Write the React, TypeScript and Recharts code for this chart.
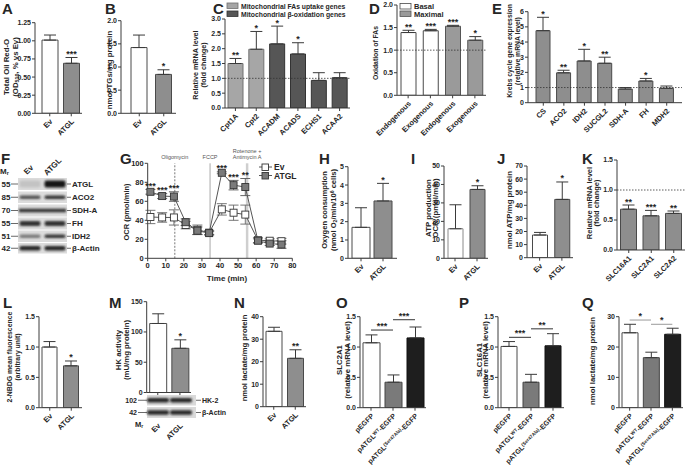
import { BarChart, Bar, Cell, XAxis, YAxis, ErrorBar, LabelList, ReferenceLine, LineChart, Line } from 'recharts'

const FONT = '"Liberation Sans", Arial, Helvetica, sans-serif'
const INK = '#262626'
const AXIS = '#3c3c3c'

// ---------- data ----------
const evAtgl = ['Ev', 'ATGL']

const aVals = [1.01, 0.69]
const aErr = [0.07, 0.08]
const aSig = ['', '***']
const aTicks = [0, 0.25, 0.5, 0.75, 1, 1.25]

const bVals = [1.42, 0.84]
const bErr = [0.27, 0.1]
const bSig = ['', '*']
const bTicks = [0, 0.5, 1, 1.5, 2]

const cCats = ['Cpt1A', 'Cpt2', 'ACADM', 'ACADS', 'ECHS1', 'ACAA2']
const cVals = [1.5, 1.98, 2.16, 1.82, 0.93, 1.02]
const cErr = [0.17, 0.6, 0.6, 0.38, 0.26, 0.17]
const cSig = ['**', '*', '*', '*', '', '']
const cTicks = [0, 0.5, 1, 1.5, 2, 2.5, 3]

const dCats = ['Endogenous', 'Exogenous', 'Endogenous', 'Exogenous']
const dVals = [1.39, 1.43, 1.53, 1.22]
const dErr = [0.05, 0.03, 0.02, 0.08]
const dSig = ['**', '***', '***', '*']
const dTicks = [0, 0.5, 1, 1.5, 2]

const eCats = ['CS', 'ACO2', 'IDH2', 'SUCGL2', 'SDH-A', 'FH', 'MDH2']
const eVals = [4.75, 1.97, 2.75, 2.6, 0.9, 1.43, 0.95]
const eErr = [0.88, 0.17, 0.77, 0.4, 0.1, 0.17, 0.15]
const eSig = ['*', '**', '*', '**', '', '*', '']
const eTicks = [0, 1, 2, 3, 4, 5, 6]

const gTime = [1.5, 8, 14.5, 21, 27.5, 34, 41, 47.5, 54, 61, 67.5, 74]
const gEv = [43.5, 43, 43, 35, 30, 27, 51.5, 48, 46, 19, 18.5, 18]
const gEvErr = [7, 5, 8, 4, 5, 2, 6, 8, 10, 3, 2, 3]
const gAtgl = [70, 65.5, 65, 38, 29, 26.5, 90, 77, 75, 18.5, 15.5, 14.5]
const gAtglErr = [2.5, 2.6, 5, 3.5, 4, 2, 1, 5, 9, 2, 2, 4]
const gSig = ['***', '***', '***', '', '', '', '***', '***', '**', '', '', '']
const gXTicks = [0, 10, 20, 30, 40, 50, 60, 70, 80]
const gYTicks = [0, 20, 40, 60, 80, 100]

const hVals = [1.69, 3.13]
const hErr = [1.07, 0.96]
const hSig = ['', '*']
const hTicks = [0, 1, 2, 3, 4, 5]

const iVals = [16, 37.3]
const iErr = [13, 2]
const iSig = ['', '*']
const iTicks = [0, 10, 20, 30, 40, 50]

const jVals = [17.3, 44.5]
const jErr = [2, 13.3]
const jSig = ['', '*']
const jTicks = [0, 10, 20, 30, 40, 50, 60, 70]

const kCats = ['SLC16A1', 'SLC2A1', 'SLC2A2']
const kVals = [0.68, 0.57, 0.61]
const kErr = [0.07, 0.09, 0.04]
const kSig = ['**', '***', '**']
const halfTicks = [0, 0.5, 1, 1.5]

const lVals = [1.0, 0.69]
const lErr = [0.09, 0.08]
const lSig = ['', '*']

const mVals = [114, 73]
const mErr = [16, 14]
const mSig = ['', '*']
const mTicks = [0, 50, 100, 150]

const nVals = [33.5, 21.5]
const nErr = [1.8, 3.8]
const nSig = ['', '**']
const nTicks = [0, 10, 20, 30, 40]

const plasmids = ['pEGFP', 'pATGL WT-EGFP', 'pATGL (Ser47Ala)-EGFP']
const oVals = [1.07, 0.42, 1.15]
const oErr = [0.13, 0.12, 0.18]
const oBrackets = [{ from: 0, to: 1, y: 1.28, s: '***' }, { from: 1, to: 2, y: 1.45, s: '***' }]

const pVals = [1.01, 0.42, 1.02]
const pErr = [0.08, 0.13, 0.2]
const pBrackets = [{ from: 0, to: 1, y: 1.16, s: '***' }, { from: 1, to: 2, y: 1.3, s: '**' }]

const qVals = [24.7, 16.5, 24.2]
const qErr = [2.8, 1.8, 2.0]
const qBrackets = [{ from: 0, to: 1, y: 28.9, s: '*' }, { from: 1, to: 2, y: 27.5, s: '*' }]
const qTicks = [0, 10, 20, 30]

// western blots: band darkness per lane (Ev, ATGL)
const fProteins = ['ATGL', 'ACO2', 'SDH-A', 'FH', 'IDH2', 'β-Actin']
const fMr = ['55', '85', '70', '55', '51', '42']
const fBands = [[0.12, 1], [0.7, 0.85], [0.85, 0.85], [0.85, 0.85], [0.5, 0.85], [0.9, 0.9]]
const mProteins = ['HK-2', 'β-Actin']
const mMr = ['102', '42']
const mBands = [[0.9, 0.9], [0.9, 0.9]]

// ---------- helpers ----------
type Part = [string, string?]

// sub/superscripts via baseline-shift so text-anchor still spans the whole line
function Rich({ parts, fs }: { parts: Part[]; fs: number }) {
  return (
    <>
      {parts.map(([t, k], i) => (
        <tspan
          key={i}
          fontSize={k ? fs * 0.68 : fs}
          baselineShift={k === 'sub' ? '-22%' : k === 'sup' ? '45%' : undefined}
        >
          {t}
        </tspan>
      ))}
    </>
  )
}

const WHITE = { fill: '#ffffff', stroke: '#4a4a4a' }
const GRAY = { fill: '#8e8e8e', stroke: '#4a4a4a' }
const LIGHT = { fill: '#a6a6a6', stroke: '#707070' }
const DARK = { fill: '#565656', stroke: '#333333' }
const MID = { fill: '#7a7a7a', stroke: '#444444' }
const BLACK = { fill: '#1e1e1e', stroke: '#111111' }

interface Spec {
  letter: string
  lx: number
  ly: number
  cats: string[]
  vals: number[]
  errs: number[]
  sig?: string[]
  styles: { fill: string; stroke: string }[]
  ticks: number[]
  dec: number
  x0: number
  x1: number
  y0: number
  y1: number
  padL: number
  padR: number
  barSize: number
  box: number[]
  titles: { x: number; parts: Part[] }[]
  ty: number
  titleFs: number
  refOne?: boolean
  brackets?: { from: number; to: number; y: number; s: string }[]
  bracketColor?: string
  tickParts?: Part[][]
  tickFs?: number
  tickDrop?: number
  extra?: (ox: number, oy: number) => any
}

function BarPanel({ s }: { s: Spec }) {
  const [bx0, by0, bx1, by1] = s.box
  const W = bx1 - bx0
  const H = by1 - by0
  const YW = 2
  const XH = 2
  const data = s.cats.map((c, i) => ({ name: c, v: s.vals[i], e: [0, s.errs[i]] }))
  const margin = { left: s.x0 - bx0 - YW, top: s.y1 - by0, right: bx1 - s.x1, bottom: by1 - s.y0 - XH }
  const drop = s.tickDrop ?? 0
  const tfs = s.tickFs ?? 7.5

  const renderTick = (p: any) => {
    const parts: Part[] = s.tickParts ? s.tickParts[p.index] : [[String(p.payload.value)]]
    return (
      <g transform={`translate(${p.x + 1.5},${p.y + 2 + drop})`}>
        <text transform="rotate(-45)" textAnchor="end" dy={2.5} fill={INK} fontFamily={FONT} fontWeight={700} fontSize={tfs}>
          <Rich parts={parts} fs={tfs} />
        </text>
      </g>
    )
  }

  const titleFn = () => (
    <g fontFamily={FONT} fill={INK}>
      <text x={s.lx - bx0} y={s.ly - by0} fontSize={15} fontWeight={700}>
        {s.letter}
      </text>
      {s.titles.map((t, i) => (
        <text
          key={i}
          transform={`translate(${t.x - bx0},${s.ty - by0}) rotate(-90)`}
          textAnchor="middle"
          dy={s.titleFs * 0.36}
          fontWeight={700}
          fontSize={s.titleFs}
        >
          <Rich parts={t.parts} fs={s.titleFs} />
        </text>
      ))}
      {s.extra ? s.extra(bx0, by0) : null}
    </g>
  )

  const starFn = (p: any) => {
    const i = p.index
    const st = s.sig ? s.sig[i] : ''
    if (!st) return null
    const vb = p.viewBox ?? p
    const ppu = vb.height / s.vals[i]
    const y = vb.y - s.errs[i] * ppu - 0.5
    return (
      <text key={`st${i}`} x={vb.x + vb.width / 2} y={y} textAnchor="middle" fontSize={9} fontWeight={700} fill={INK} fontFamily={FONT}>
        {st}
      </text>
    )
  }

  return (
    <div style={{ position: 'absolute', left: bx0, top: by0 }}>
      <BarChart width={W} height={H} data={data} margin={margin} barSize={s.barSize}>
        <XAxis
          dataKey="name"
          interval={0}
          height={XH}
          tickSize={3}
          tickLine={{ stroke: AXIS }}
          axisLine={{ stroke: AXIS }}
          tick={renderTick}
          padding={{ left: s.padL, right: s.padR }}
        />
        <YAxis
          type="number"
          width={YW}
          domain={[0, s.ticks[s.ticks.length - 1]]}
          ticks={s.ticks}
          interval={0}
          allowDataOverflow
          tickSize={3}
          tickMargin={1}
          tickLine={{ stroke: AXIS }}
          axisLine={{ stroke: AXIS }}
          tick={{ fontSize: 7, fontWeight: 700, fill: INK, fontFamily: FONT }}
          tickFormatter={(v: number) => Number(v).toFixed(s.dec)}
          label={titleFn}
        />
        {s.refOne && <ReferenceLine y={1} stroke="#333" strokeDasharray="1.5 1.5" strokeWidth={0.8} ifOverflow="visible" />}
        <Bar dataKey="v" isAnimationActive={false} strokeWidth={1}>
          {data.map((_, i) => (
            <Cell key={i} fill={s.styles[i].fill} stroke={s.styles[i].stroke} />
          ))}
          <ErrorBar dataKey="e" width={6} stroke="#3a3a3a" strokeWidth={1} direction="y" />
          <LabelList dataKey="v" content={starFn} />
        </Bar>
        {(s.brackets ?? []).map((b, i) => (
          <ReferenceLine
            key={`br${i}`}
            segment={[
              { x: s.cats[b.from], y: b.y },
              { x: s.cats[b.to], y: b.y },
            ]}
            stroke={s.bracketColor ?? '#333'}
            strokeWidth={1}
            ifOverflow="visible"
            label={(lp: any) => {
              const vb = lp.viewBox
              return (
                <text x={vb.x + vb.width / 2} y={vb.y - 1} textAnchor="middle" fontSize={9} fontWeight={700} fill={INK} fontFamily={FONT}>
                  {b.s}
                </text>
              )
            }}
          />
        ))}
      </BarChart>
    </div>
  )
}

const plasmidParts: Part[][] = [
  [['pEGFP']],
  [['pATGL'], ['WT', 'sup'], ['-EGFP']],
  [['pATGL'], ['(Ser47Ala)', 'sup'], ['-EGFP']],
]

const legendC = (ox: number, oy: number) => (
  <g fontFamily={FONT} fontWeight={700} fontSize={6.8} fill={INK}>
    <rect x={227 - ox} y={3 - oy} width={11} height={5.5} fill={LIGHT.fill} stroke={LIGHT.stroke} strokeWidth={0.8} />
    <text x={241 - ox} y={8.5 - oy}>Mitochondrial FAs uptake genes</text>
    <rect x={227 - ox} y={11 - oy} width={11} height={5.5} fill={DARK.fill} stroke={DARK.stroke} strokeWidth={0.8} />
    <text x={241 - ox} y={16.5 - oy}>Mitochondrial β-oxidation genes</text>
  </g>
)

const legendD = (ox: number, oy: number) => (
  <g fontFamily={FONT} fontWeight={700} fontSize={7.5} fill={INK}>
    <rect x={400 - ox} y={3.5 - oy} width={11} height={5.5} fill="#fff" stroke="#4a4a4a" strokeWidth={0.8} />
    <text x={414 - ox} y={9 - oy}>Basal</text>
    <rect x={400 - ox} y={11 - oy} width={11} height={5.5} fill="#9a9a9a" stroke="#555" strokeWidth={0.8} />
    <text x={414 - ox} y={16.5 - oy}>Maximal</text>
  </g>
)

const specs: Spec[] = [
  {
    letter: 'A', lx: 2, ly: 14, cats: evAtgl, vals: aVals, errs: aErr, sig: aSig, styles: [WHITE, GRAY], ticks: aTicks, dec: 2,
    x0: 35, x1: 82, y0: 113.3, y1: 22.7, padL: 4, padR: 0, barSize: 16, box: [0, 0, 96, 145],
    titles: [{ x: 6, parts: [['Total Oil Red-O']] }, { x: 15.5, parts: [['(OD'], ['510', 'sub'], [', % vs Ev)']] }], ty: 67, titleFs: 7.8,
  },
  {
    letter: 'B', lx: 105, ly: 14, cats: evAtgl, vals: bVals, errs: bErr, sig: bSig, styles: [WHITE, GRAY], ticks: bTicks, dec: 1,
    x0: 121, x1: 176, y0: 113.3, y1: 20.7, padL: 6, padR: 0, barSize: 16, box: [100, 0, 185, 145],
    titles: [{ x: 109.5, parts: [['nmol TGs/mg protein']] }], ty: 70, titleFs: 7.8,
  },
  {
    letter: 'C', lx: 213, ly: 14, cats: cCats, vals: cVals, errs: cErr, sig: cSig, styles: [LIGHT, LIGHT, DARK, DARK, DARK, DARK], ticks: cTicks, dec: 1,
    x0: 225, x1: 350, y0: 108, y1: 19, padL: 0, padR: 0, barSize: 15, box: [185, 0, 362, 145], refOne: true,
    titles: [{ x: 195, parts: [['Relative mRNA level']] }, { x: 203, parts: [['(fold change)']] }], ty: 65, titleFs: 7.2, extra: legendC,
  },
  {
    letter: 'D', lx: 369, ly: 14, cats: dCats, vals: dVals, errs: dErr, sig: dSig, styles: [WHITE, WHITE, { fill: '#9a9a9a', stroke: '#555' }, { fill: '#9a9a9a', stroke: '#555' }], ticks: dTicks, dec: 1,
    x0: 397, x1: 486, y0: 95.3, y1: 5, padL: 0, padR: 0, barSize: 15, box: [365, 0, 492, 150], refOne: true,
    titles: [{ x: 376, parts: [['Oxidation of FAs']] }], ty: 53, titleFs: 6.8, extra: legendD,
  },
  {
    letter: 'E', lx: 492, ly: 14, cats: eCats, vals: eVals, errs: eErr, sig: eSig, styles: eCats.map(() => GRAY), ticks: eTicks, dec: 0,
    x0: 528, x1: 682, y0: 102.7, y1: 11.7, padL: 5, padR: 5, barSize: 14, box: [490, 0, 685, 145], refOne: true,
    titles: [{ x: 509.5, parts: [['Krebs cycle gene expression']] }, { x: 518, parts: [['(relative mRNA level)']] }], ty: 51, titleFs: 6.8,
  },
  {
    letter: 'H', lx: 319, ly: 164, cats: evAtgl, vals: hVals, errs: hErr, sig: hSig, styles: [WHITE, GRAY], ticks: hTicks, dec: 0,
    x0: 348, x1: 397, y0: 258.3, y1: 166.7, padL: 2, padR: 3, barSize: 18, box: [310, 148, 402, 295],
    titles: [
      { x: 324.5, parts: [['Oxygen consumption']] },
      { x: 333.5, parts: [['(nmol O'], ['2', 'sub'], ['/min/10'], ['6', 'sup'], [' cells)']] },
    ],
    ty: 210, titleFs: 7.6,
  },
  {
    letter: 'I', lx: 411, ly: 164, cats: evAtgl, vals: iVals, errs: iErr, sig: iSig, styles: [{ fill: '#fff', stroke: '#8a8a8a' }, GRAY], ticks: iTicks, dec: 0,
    x0: 444, x1: 488, y0: 258.3, y1: 166, padL: 0, padR: 0, barSize: 15, box: [405, 148, 495, 295],
    titles: [{ x: 428, parts: [['ATP production']] }, { x: 435.5, parts: [['OCR (pmol/min)']] }], ty: 208, titleFs: 7.8,
  },
  {
    letter: 'J', lx: 497, ly: 164, cats: evAtgl, vals: jVals, errs: jErr, sig: jSig, styles: [WHITE, GRAY], ticks: jTicks, dec: 0,
    x0: 527, x1: 573, y0: 257.7, y1: 166, padL: 1.5, padR: 0, barSize: 15, box: [495, 148, 580, 295],
    titles: [{ x: 509.5, parts: [['nmol ATP/mg protein']] }], ty: 210, titleFs: 7.8,
  },
  {
    letter: 'K', lx: 582, ly: 164, cats: kCats, vals: kVals, errs: kErr, sig: kSig, styles: kCats.map(() => GRAY), ticks: halfTicks, dec: 1,
    x0: 617, x1: 685, y0: 250, y1: 160, padL: 0.5, padR: 0, barSize: 16, box: [580, 148, 685, 295], refOne: true,
    titles: [{ x: 589.5, parts: [['Relative mRNA level']] }, { x: 596.5, parts: [['(fold change)']] }], ty: 203, titleFs: 7.5,
  },
  {
    letter: 'L', lx: 3, ly: 308, cats: evAtgl, vals: lVals, errs: lErr, sig: lSig, styles: [WHITE, GRAY], ticks: halfTicks, dec: 1,
    x0: 39, x1: 82, y0: 407.7, y1: 316.7, padL: 0, padR: 0, barSize: 15, box: [0, 290, 95, 465],
    titles: [{ x: 10, parts: [['2-NBDG mean fluorescence']] }, { x: 18, parts: [['(arbitrary unit)']] }], ty: 357, titleFs: 6.9,
  },
  {
    letter: 'M', lx: 109, ly: 308, cats: evAtgl, vals: mVals, errs: mErr, sig: mSig, styles: [WHITE, GRAY], ticks: mTicks, dec: 0,
    x0: 146.7, x1: 191, y0: 392.5, y1: 301.7, padL: 0, padR: 0, barSize: 17, box: [105, 290, 228, 465], tickDrop: 25,
    titles: [{ x: 118, parts: [['HK activity']] }, { x: 126, parts: [['(mU/mg protein)']] }], ty: 350, titleFs: 7.8,
  },
  {
    letter: 'N', lx: 234, ly: 308, cats: evAtgl, vals: nVals, errs: nErr, sig: nSig, styles: [WHITE, GRAY], ticks: nTicks, dec: 0,
    x0: 263, x1: 306, y0: 406.7, y1: 316.7, padL: 0, padR: 0, barSize: 16, box: [230, 290, 315, 465],
    titles: [{ x: 244, parts: [['nmol lactate/mg protein']] }], ty: 358, titleFs: 7.7,
  },
  {
    letter: 'O', lx: 336, ly: 308, cats: plasmids, vals: oVals, errs: oErr, styles: [WHITE, MID, BLACK], ticks: halfTicks, dec: 1,
    x0: 360, x1: 426, y0: 407.7, y1: 316.7, padL: 0, padR: 0, barSize: 17, box: [332, 290, 432, 465],
    brackets: oBrackets, tickParts: plasmidParts, tickFs: 7,
    titles: [{ x: 339.5, parts: [['SLC2A1']] }, { x: 347.5, parts: [['(relative mRNA level)']] }], ty: 360, titleFs: 7.8,
  },
  {
    letter: 'P', lx: 459, ly: 308, cats: plasmids, vals: pVals, errs: pErr, styles: [WHITE, MID, BLACK], ticks: halfTicks, dec: 1,
    x0: 498, x1: 564, y0: 407.7, y1: 316.7, padL: 0, padR: 0, barSize: 16, box: [456, 290, 570, 465],
    brackets: pBrackets, tickParts: plasmidParts, tickFs: 7,
    titles: [{ x: 479, parts: [['SLC16A1']] }, { x: 485.5, parts: [['(relative mRNA level)']] }], ty: 360, titleFs: 7.8,
  },
  {
    letter: 'Q', lx: 582, ly: 308, cats: plasmids, vals: qVals, errs: qErr, styles: [WHITE, MID, BLACK], ticks: qTicks, dec: 0,
    x0: 619, x1: 683, y0: 407.7, y1: 316.7, padL: 0, padR: 0, barSize: 16, box: [578, 290, 685, 465],
    brackets: qBrackets, bracketColor: '#9a9a9a', tickParts: plasmidParts, tickFs: 7,
    titles: [{ x: 592.5, parts: [['nmol lactate/mg protein']] }], ty: 361, titleFs: 7.8,
  },
]

// ---------- panel G (Seahorse trace) ----------
function PanelG() {
  const bx0 = 116
  const by0 = 146
  const bx1 = 302
  const by1 = 292
  const x0 = 147.7
  const x1 = 292.3
  const y0 = 258.3
  const y1 = 163.3
  const pxPerUnit = (y0 - y1) / 100
  const data = gTime.map((t, i) => ({ t, ev: gEv[i], evE: gEvErr[i], atgl: gAtgl[i], atglE: gAtglErr[i] }))

  const square = (fill: string) => (p: any) => (
    <rect key={`sq${fill}${p.index}`} x={p.cx - 3.5} y={p.cy - 3.5} width={7} height={7} fill={fill} stroke="#333" strokeWidth={0.9} />
  )

  const axisLabel = () => (
    <g fontFamily={FONT} fill={INK}>
      <text x={120 - bx0} y={164 - by0} fontSize={15} fontWeight={700}>G</text>
      <text transform={`translate(${126.5 - bx0},${212 - by0}) rotate(-90)`} textAnchor="middle" dy={2.7} fontSize={7.5} fontWeight={700}>
        OCR (pmol/min)
      </text>
      <text x={227 - bx0} y={281 - by0} textAnchor="middle" fontSize={8} fontWeight={700}>Time (min)</text>
      <g fontWeight={700} fontSize={8.5}>
        <line x1={259 - bx0} x2={272 - bx0} y1={167 - by0} y2={167 - by0} stroke="#555" />
        <rect x={262 - bx0} y={164 - by0} width={6.5} height={6.5} fill="#fff" stroke="#333" strokeWidth={0.9} />
        <text x={274 - bx0} y={170 - by0}>Ev</text>
        <line x1={259 - bx0} x2={272 - bx0} y1={175.5 - by0} y2={175.5 - by0} stroke="#555" />
        <rect x={262 - bx0} y={172.5 - by0} width={6.5} height={6.5} fill="#7a7a7a" stroke="#333" strokeWidth={0.9} />
        <text x={274 - bx0} y={178.5 - by0}>ATGL</text>
      </g>
    </g>
  )

  const injLabel = (lines: string[]) => (lp: any) => {
    const vb = lp.viewBox
    return (
      <text x={vb.x} y={vb.y - 4 - (lines.length - 1) * 6} textAnchor="middle" fontFamily={FONT} fontSize={5.5} fill="#555">
        {lines.map((l, i) => (
          <tspan key={i} x={vb.x} dy={i === 0 ? 0 : 6}>
            {l}
          </tspan>
        ))}
      </text>
    )
  }

  const starFn = (p: any) => {
    const i = p.index
    const st = gSig[i]
    if (!st) return null
    return (
      <text key={`gs${i}`} x={p.x} y={p.y - gAtglErr[i] * pxPerUnit - 0.5} textAnchor="middle" fontSize={9} fontWeight={700} fill={INK} fontFamily={FONT}>
        {st}
      </text>
    )
  }

  return (
    <div style={{ position: 'absolute', left: bx0, top: by0 }}>
      <LineChart
        width={bx1 - bx0}
        height={by1 - by0}
        data={data}
        margin={{ left: x0 - bx0 - 2, top: y1 - by0, right: bx1 - x1, bottom: by1 - y0 - 2 }}
      >
        <XAxis
          type="number"
          dataKey="t"
          domain={[0, 80]}
          ticks={gXTicks}
          interval={0}
          height={2}
          tickSize={3}
          tickMargin={1}
          tickLine={{ stroke: AXIS }}
          axisLine={{ stroke: AXIS }}
          tick={{ fontSize: 7.5, fontWeight: 700, fill: INK, fontFamily: FONT }}
        />
        <YAxis
          type="number"
          width={2}
          domain={[0, 100]}
          ticks={gYTicks}
          interval={0}
          tickSize={3}
          tickMargin={1}
          tickLine={{ stroke: AXIS }}
          axisLine={{ stroke: AXIS }}
          tick={{ fontSize: 7.5, fontWeight: 700, fill: INK, fontFamily: FONT }}
          label={axisLabel}
        />
        <ReferenceLine x={15} stroke="#555" strokeDasharray="2 1.5" strokeWidth={0.8} label={injLabel(['Oligomycin'])} />
        <ReferenceLine x={34.5} stroke="#a8a8a8" strokeWidth={1} label={injLabel(['FCCP'])} />
        <ReferenceLine x={55} stroke="#cfcfcf" strokeWidth={2.5} label={injLabel(['Rotenone +', 'Antimycin A'])} />
        <Line dataKey="ev" stroke="#555" strokeWidth={1} dot={square('#ffffff')} isAnimationActive={false}>
          <ErrorBar dataKey="evE" direction="y" width={5} stroke="#666" strokeWidth={0.9} />
        </Line>
        <Line dataKey="atgl" stroke="#555" strokeWidth={1} dot={square('#7a7a7a')} isAnimationActive={false}>
          <ErrorBar dataKey="atglE" direction="y" width={5} stroke="#555" strokeWidth={0.9} />
          <LabelList dataKey="atgl" content={starFn} />
        </Line>
      </LineChart>
    </div>
  )
}

// ---------- western blots (F and bottom of M) ----------
function Blots() {
  const fRows = [
    [178, 12],
    [191.5, 11.5],
    [204.5, 12],
    [217.5, 12],
    [230.5, 11.5],
    [243, 10.5],
  ]
  const fBandH = [7, 3.5, 3.5, 5, 3.5, 4.5]
  const fLanes = [30, 55]
  const mRows = [
    [395, 10.5],
    [407, 11],
  ]
  const mLanes = [158, 181]
  const txt = { fontFamily: FONT, fontWeight: 700, fill: INK }

  return (
    <svg width={685} height={465} style={{ position: 'absolute', left: 0, top: 0, pointerEvents: 'none' }}>
      <defs>
        <filter id="blotBlur" x="-20%" y="-50%" width="140%" height="200%">
          <feGaussianBlur stdDeviation="0.9" />
        </filter>
      </defs>
      <text x={1} y={164} fontSize={15} {...txt}>F</text>
      <text x={0} y={174} fontSize={8} {...txt}>
        <Rich parts={[['M'], ['r', 'sub']]} fs={8} />
      </text>
      <text transform="translate(27,175) rotate(-45)" fontSize={8} {...txt}>Ev</text>
      <text transform="translate(47,176) rotate(-45)" fontSize={8} {...txt}>ATGL</text>
      {fRows.map(([y, h], r) => (
        <g key={r}>
          <rect x={18} y={y} width={49} height={h} fill="#dcdcdc" />
          {fLanes.map((cx, l) =>
            r === 2 ? null : (
              <rect
                key={l}
                x={cx - 10.5}
                y={y + h / 2 - fBandH[r] / 2}
                width={21}
                height={fBandH[r]}
                rx={2}
                fill="#161616"
                opacity={fBands[r][l]}
                filter="url(#blotBlur)"
              />
            ),
          )}
          {r === 2 && <rect x={19} y={y + h / 2 - 1.8} width={47} height={3.6} fill="#161616" opacity={fBands[r][0]} filter="url(#blotBlur)" />}
          <text x={10.5} y={y + h / 2 + 2.8} textAnchor="end" fontSize={8} {...txt}>{fMr[r]}</text>
          <line x1={11} x2={18} y1={y + h / 2} y2={y + h / 2} stroke="#444" strokeWidth={0.8} />
          <line x1={67} x2={71} y1={y + h / 2} y2={y + h / 2} stroke="#444" strokeWidth={0.8} />
          <text x={72} y={y + h / 2 + 2.8} fontSize={8} {...txt}>{fProteins[r]}</text>
        </g>
      ))}
      {mRows.map(([y, h], r) => (
        <g key={`m${r}`}>
          <rect x={147} y={y} width={49} height={h} fill="#dadada" />
          {mLanes.map((cx, l) => (
            <rect
              key={l}
              x={cx - 11}
              y={y + h / 2 - 2.3}
              width={22}
              height={4.6}
              rx={2}
              fill="#161616"
              opacity={mBands[r][l]}
              filter="url(#blotBlur)"
            />
          ))}
          <text x={137} y={y + h / 2 + 2.5} textAnchor="end" fontSize={7} {...txt}>{mMr[r]}</text>
          <line x1={138} x2={147} y1={y + h / 2} y2={y + h / 2} stroke="#444" strokeWidth={0.8} />
          <line x1={196} x2={201} y1={y + h / 2} y2={y + h / 2} stroke="#444" strokeWidth={0.8} />
          <text x={202} y={y + h / 2 + 2.5} fontSize={7} {...txt}>{mProteins[r]}</text>
        </g>
      ))}
      <text x={135} y={427} fontSize={7.5} {...txt}>
        <Rich parts={[['M'], ['r', 'sub']]} fs={7.5} />
      </text>
    </svg>
  )
}

export default function App() {
  return (
    <div style={{ position: 'absolute', left: 0, top: 0, width: 685, height: 465, background: '#fff', overflow: 'hidden' }}>
      {specs.map((s) => (
        <BarPanel key={s.letter} s={s} />
      ))}
      <PanelG />
      <Blots />
    </div>
  )
}
